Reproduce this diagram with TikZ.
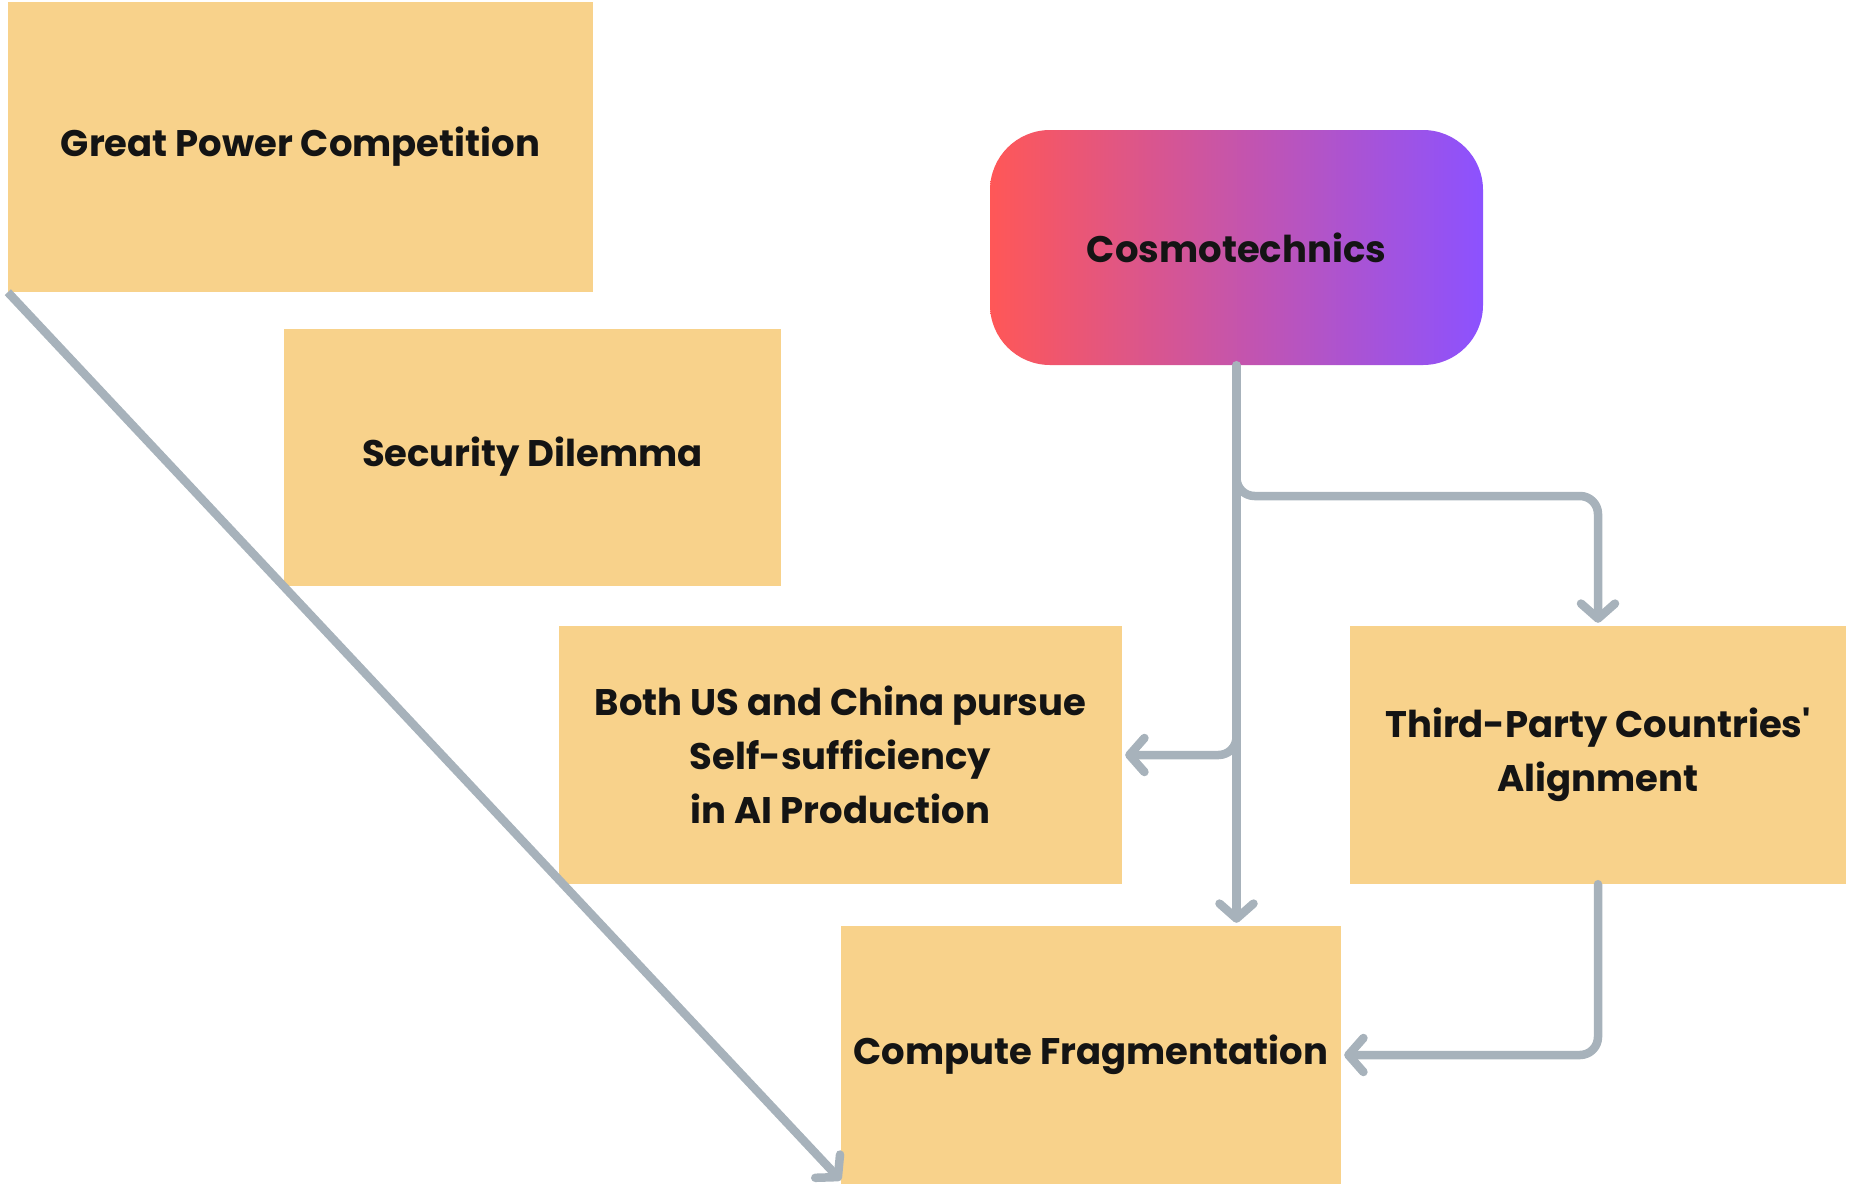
\documentclass[tikz,border=0pt]{standalone}
\usepackage{fontspec}
\setmainfont{Poppins}
\newfontfamily\aposfont{Poppins}[Ligatures=TeXOff]
\usetikzlibrary{arrows.meta,calc}
\definecolor{boxc}{HTML}{F8D28B}
\definecolor{linec}{HTML}{A7B2BB}
\definecolor{txt}{HTML}{141414}
\definecolor{gl}{HTML}{FF5757}
\definecolor{gr}{HTML}{8C52FF}
\tikzset{
  box/.style={fill=boxc, draw=none, inner sep=0pt, align=center, text=txt,
    font=\fontsize{37}{54}\selectfont\bfseries},
  conn/.style={draw=linec, line width=8.5pt, line cap=round, line join=round,
    -{Straight Barb[length=15pt,width=34pt,round]}},
}
\begin{document}
\begin{tikzpicture}[x=1pt,y=-1pt]
\useasboundingbox (0,0) rectangle (1850,1184);
\node[box, minimum width=585pt, minimum height=290pt] (gp) at (300.5,147) {Great Power Competition};
\node[box, minimum width=497pt, minimum height=257pt] (sd) at (532.5,457) {Security Dilemma};
\node[box, minimum width=563pt, minimum height=258pt] (both) at (840.5,755) {Both US and China pursue\\Self-sufficiency\\in AI Production};
\node[box, minimum width=496pt, minimum height=258pt] (tp) at (1598,755) {Third-Party Countries{\aposfont\bfseries '}\\Alignment};
\node[box, minimum width=500pt, minimum height=258pt] (cf) at (1091,1055) {Compute Fragmentation};
\node[box, fill=none, left color=gl, right color=gr, rounded corners=60pt,
  minimum width=493pt, minimum height=235pt] (cm) at (1236.5,247.5) {Cosmotechnics};
\coordinate (j1) at (cm.south |- 0,496);
\coordinate (j1a) at (cm.south |- 0,470);
\coordinate (j2) at (cm.south |- 0,755);
\coordinate (j2a) at (cm.south |- 0,725);
\draw[conn, shorten >=3pt] (cm.south) -- (cm.south |- cf.north);
\draw[conn, rounded corners=18pt, shorten >=3pt] (j1a) -- (j1) -| (tp.north);
\draw[conn, rounded corners=18pt, shorten >=3pt] (j2a) -- (j2) -- (both.east);
\draw[conn, rounded corners=18pt, shorten >=3pt] (tp.south) |- (cf.east);
\draw[conn, line cap=butt] (gp.south west) -- ($(cf.south west)+(0,-4)$);
\end{tikzpicture}
\end{document}
